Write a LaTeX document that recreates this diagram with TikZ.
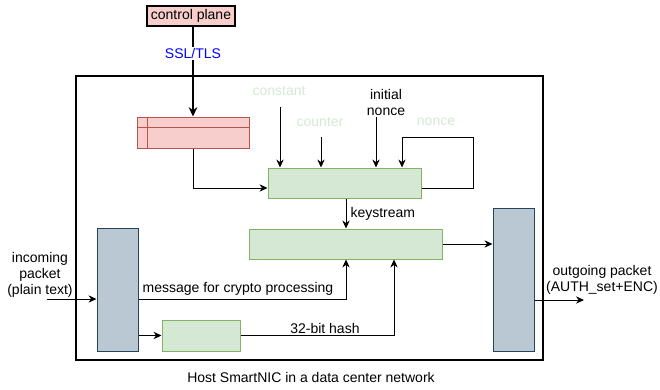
\documentclass[tikz,border=0pt]{standalone}
\usepackage{fontspec}
\setmainfont{Liberation Sans}
\usetikzlibrary{arrows.meta,fit}
\definecolor{gfill}{HTML}{D5E8D4}
\definecolor{gdraw}{HTML}{82B366}
\definecolor{rfill}{HTML}{F8CECC}
\definecolor{rdraw}{HTML}{B85450}
\definecolor{bfill}{HTML}{BAC8D3}
\definecolor{bdraw}{HTML}{23445D}
\definecolor{lbl}{HTML}{D5E8D4}
\begin{document}
\begin{tikzpicture}[x=0.75pt,y=-0.75pt,
  font=\fontsize{10.5}{12}\selectfont,
  box/.style={inner sep=0pt, line width=0.75pt},
  gbox/.style={box, draw=gdraw, fill=gfill},
  rbox/.style={box, draw=rdraw, fill=rfill},
  bbox/.style={box, draw=bdraw, fill=bfill},
  arr/.style={line width=0.75pt, -{Stealth[length=6pt,width=5.5pt]}},
  thickarr/.style={line width=1.5pt, -{Stealth[length=7pt,width=6.5pt]}},
  txt/.style={inner sep=1pt, align=center}]
\useasboundingbox (0,0) rectangle (660,389);
% outer
\node[fit={(76,76) (543,360)}, inner sep=0pt, draw, line width=1.5pt] (outer) {};
% control plane
\node[fit={(147,6) (235,26)}, inner sep=0pt, draw, fill=rfill, line width=1.5pt] (cp) {};
\node[txt] at (cp.center) {control plane};
% red table
\node[rbox, fit={(137,117) (249,148)}] (red) {};
\draw[rdraw, line width=0.75pt] (147,117) -- (147,148) (137,127) -- (249,127);
% green boxes
\node[gbox, fit={(268,168) (421,198)}] (g1) {};
\node[gbox, fit={(249,229) (442,259)}] (g2) {};
\node[gbox, fit={(162,320) (240,351)}] (sg) {};
% blue boxes
\node[bbox, fit={(97,228) (138,351)}] (lb) {};
\node[bbox, fit={(493,208) (534,351)}] (rb) {};
% control plane link
\draw[thickarr] (cp.south -| red.north) -- node[fill=white, text=blue, txt, pos=0.3] {SSL/TLS} (red.north);
% red to g1
\draw[arr] (red.south) |- ([yshift=-3.75pt]g1.west);
% top labels
\node[txt, text=lbl] (lconst) at (279,91) {constant};
\node[txt, text=lbl] (lcount) at (320,122) {counter};
\node[txt] (linit) at (386,102) {initial\\nonce};
\node[txt, text=lbl] (lnonce) at (436,122) {nonce};
\coordinate (c1) at (280,107);
\coordinate (c2) at (321,137);
\coordinate (c3) at (376,117);
\draw[arr] (c1) -- (c1 |- g1.north);
\draw[arr] (c2) -- (c2 |- g1.north);
\draw[arr] (c3) -- (c3 |- g1.north);
% feedback
\coordinate (fb1) at (473,137);
\coordinate (fb2) at (402,137);
\draw[arr] ([yshift=-3.75pt]g1.east) -| (fb1) -- (fb2) -- (fb2 |- g1.north);
% keystream
\coordinate (ks) at (346,0);
\draw[arr] (ks |- g1.south) -- node[right, txt, xshift=2pt] {keystream} (ks |- g2.north);
% g2 to right blue
\draw[arr] (g2.east) -- (g2.east -| rb.west);
% incoming
\coordinate (in) at (47,299);
\draw[arr] (in) -- (in -| lb.west);
\node[txt] at (40,275) {incoming\\packet\\(plain text)};
% lb to sg
\draw[arr] (lb.east |- sg.west) -- (sg.west);
% message
\coordinate (m) at (346,299);
\draw[arr] (lb.east |- m) -- (m) -- (m |- g2.south);
\node[txt, anchor=west] (lmsg) at (141,289) {message for crypto processing};
% hash
\coordinate (h) at (394,0);
\draw[arr] (sg.east) -- node[above, pos=0.55, txt] {32-bit hash} (sg.east -| h) -- (h |- g2.south);
% outgoing
\coordinate (out) at (584,300);
\draw[arr] (rb.east |- out) -- (out);
\node[txt] at (602,280) {outgoing packet\\(AUTH\_set+ENC)};
% caption
\node[txt] (cap) at (311,377) {Host SmartNIC in a data center network};
\end{tikzpicture}
\end{document}
